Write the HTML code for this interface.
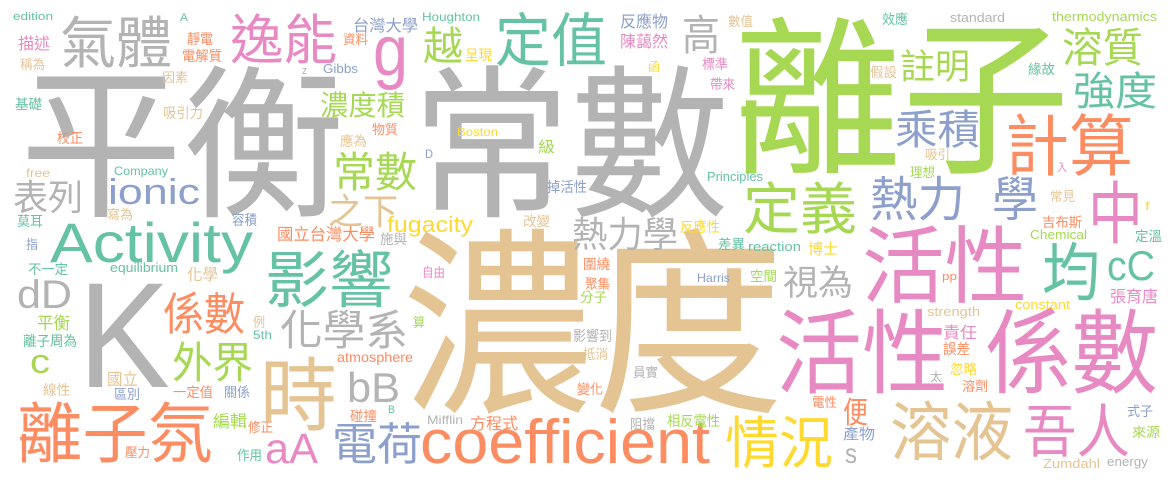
<!DOCTYPE html>
<html><head><meta charset="utf-8">
<style>
html,body{margin:0;padding:0;background:#fff;width:1175px;height:482px;overflow:hidden}
svg{display:block}
text{font-family:"Liberation Sans","Noto Sans CJK TC",sans-serif}
</style></head>
<body>
<svg id="cloud" width="1175" height="482" viewBox="0 0 1175 482" xmlns="http://www.w3.org/2000/svg"></svg>
<script>
const G="#b3b3b3",GR="#a6d854",P="#e78ac3",O="#fc8d62",T="#66c2a5",B="#8da0cb",TN="#e5c494",Y="#ffd92f";
// [text, x, baseline, size, width, color]
const words=[
["平衡",20,204,165,325,G],["常數",412,204,165,317,G],["離子",733,160,170,337,GR],["濃度",402,397,200,382,TN],
["K",78,387,150,92,G],
["活性",862,296,84,165,P],["活性",776,386,92,172,P],["係數",985,386,92,173,P],["均",1042,295,63,58,T],
["cC",1107,280,42,48,T],["中",1088,238,68,55,P],["計算",1005,170,67,128,O],["熱力",870,216,48,95,B],["學",992,216,48,46,B],
["乘積",895,144,41,85,B],["強度",1073,105,40,84,T],["溶質",1062,62,41,81,GR],["註明",900,79,35,70,GR],["定義",743,229,56,114,GR],
["視為",783,295,35,70,G],["溶液",890,455,64,123,TN],["吾人",1023,452,58,107,P],["情況",725,463,56,108,Y],["便",843,423,30,25,O],
["產物",843,439,15,32,B],["s",845,463,28,12,G],["coefficient",420,463,62,290,O],
["edition",13,20,11,40,T],["A",180,21,11,8,T],["氣體",60,63,56,112,G],["逸能",230,59,54,107,P],["g",373,75,71,35,P],
["台灣大學",353,31,16,65,B],["描述",18,49,16,32,P],["靜電",187,44,14,26,O],["電解質",182,61,14,40,O],["資料",343,44,13,25,O],
["稱為",20,69,13,25,TN],["Gibbs",323,73,13,35,B],["z",302,74,11,5,G],["因素",162,82,13,26,TN],["基礎",15,109,13.5,27,T],
["吸引力",163,118,14,40,TN],["濃度積",320,115,28,85,GR],["物質",372,134,13,26,O],["校正",57,143,14,26,O],["應為",340,146,13.5,27,TN],
["常數",333,187,42,84,GR],["free",26,177,12,24,TN],["Company",114,175,12,54,T],["ionic",108,204,36,92,B],["表列",13,210,36,70,G],
["之下",328,224,36,70,TN],["fugacity",387,232,22,86,Y],["寫為",107,219,13,26,TN],["容積",232,225,14,25,B],["莫耳",17,226,13.5,26,T],
["Activity",50,262,56,203,T],["國立台灣大學",277,240,16.5,98,O],["施與",380,244,13.5,27,G],["指",26,249,13,12,B],
["不一定",28,274,13.5,40,T],["equilibrium",110,272,13,68,T],["化學",187,280,16,31,TN],["影響",265,302,62,128,T],
["dD",17,308,40,55,G],["係數",163,330,45,82,O],["化學系",280,345,42,128,G],["平衡",37,329,17,33,GR],["例",253,327,13.5,12,TN],
["5th",253,339,12,19,T],["離子周為",23,346,14,54,T],["c",30,373,34,20,GR],["外界",172,378,43,81,GR],["atmosphere",337,362,13.5,76,O],
["時",260,424,80,77,TN],["bB",347,402,42,53,G],["國立",107,385,16.5,31,TN],["線性",43,395,14,27,TN],["區別",114,399,13.5,26,B],
["一定值",173,397,13.5,40,O],["關係",224,397,13.5,26,B],["離子氛",17,457,66,196,O],["編輯",213,427,16.5,34,GR],["碰撞",350,421,13.5,27,O],
["B",388,413,11,7,T],["修正",248,432,13.5,25,O],["壓力",125,457,13,25,O],["作用",237,460,13.5,25,T],["aA",265,463,43,53,P],["電荷",332,460,45,90,B],
["Houghton",422,21,12,58,T],["越",423,60,40,40,GR],["定值",495,61,58,112,T],["呈現",465,60,14,27,Y],["反應物",620,27,16,48,B],
["陳藹然",620,47,16,48,P],["高",682,50,42,38,G],["數值",728,26,13,25,TN],["函",648,71,12,12,Y],["標準",702,69,13.5,26,P],
["帶來",710,89,13.5,25,P],["Boston",457,136,12,41,Y],["級",538,152,15,17,GR],["D",425,158,12,8,B],["掉活性",547,192,14,40,B],
["Principles",707,181,12.5,56,T],["熱力學",572,247,36,106,G],["改變",523,226,13.5,27,TN],["反應性",680,232,14,40,Y],["差異",718,249,13.5,27,T],
["reaction",748,251,13,53,T],["博士",808,254,15,30,Y],["自由",422,277,13,23,P],["圍繞",583,269,13.5,27,O],["聚集",585,289,13.5,25,O],
["分子",580,302,13.5,27,GR],["Harris",697,282,12,33,B],["空間",750,281,13.5,27,GR],["算",413,327,13,12,GR],["影響到",573,341,14,39,G],
["抵消",583,359,13.5,25,TN],["員實",633,377,13,25,G],["變化",577,394,13.5,26,O],["Mifflin",427,424,12,36,G],["方程式",470,429,16,48,O],
["阻擋",630,429,13.5,25,G],["相反電性",667,426,14,53,GR],
["效應",882,24,13.5,26,T],["standard",950,22,12.5,55,G],["thermodynamics",1052,21,12.5,105,GR],["假設",870,77,13.5,27,TN],
["緣故",1028,74,13.5,27,T],["吸引",925,159,13,25,TN],["入",1057,171,11,10,P],["理想",910,177,13,25,GR],["常見",1050,201,13,25,TN],
["f",1145,210,12,5,Y],["吉布斯",1042,227,13.5,40,O],["Chemical",1030,239,12.5,57,GR],["定溫",1135,241,13.5,27,T],["pp",942,280,11,15,O],
["張育唐",1110,302,16,48,P],["constant",1015,309,12.5,55,Y],["strength",927,316,12.5,53,TN],["責任",943,338,16,34,P],["誤差",943,354,14,27,O],
["忽略",950,374,13.5,27,Y],["太",930,381,12,12,G],["溶劑",962,391,13.5,26,O],["電性",812,407,13,25,O],["式子",1127,416,13.5,26,B],
["來源",1132,437,13.5,28,GR],["Zumdahl",1043,468,12.5,57,TN],["energy",1107,466,12.5,41,G]
];
const svg=document.getElementById('cloud');
const NS="http://www.w3.org/2000/svg";
words.forEach(w=>{
  const t=document.createElementNS(NS,'text');
  
  
  t.setAttribute('x',w[1]);
  t.setAttribute('y',w[2]);
  t.setAttribute('font-size',w[3]);
  t.setAttribute('fill',w[5]);
  t.setAttribute('textLength',w[4]);
  t.setAttribute('lengthAdjust','spacingAndGlyphs');
  t.textContent=w[0];
  svg.appendChild(t);
});
</script>
</body></html>
